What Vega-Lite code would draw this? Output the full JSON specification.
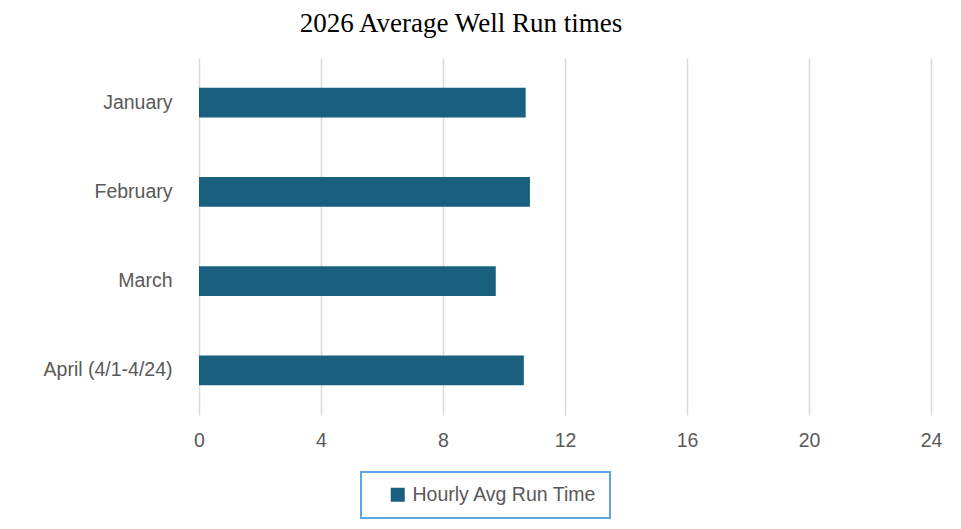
{
  "$schema": "https://vega.github.io/schema/vega-lite/v6.json",
  "autosize": {"type": "none"},
  "width": 732,
  "height": 357,
  "padding": {"left": 199, "top": 58, "right": 30, "bottom": 114},
  "background": "white",
  "title": {
    "text": "2026 Average Well Run times",
    "font": "Liberation Serif",
    "fontSize": 27,
    "fontWeight": "normal",
    "color": "#000000",
    "anchor": "middle",
    "frame": "group",
    "dx": -104,
    "offset": 20
  },
  "data": {
    "values": [
      {"month": "January", "hours": 10.71, "series": "Hourly Avg Run Time"},
      {"month": "February", "hours": 10.85, "series": "Hourly Avg Run Time"},
      {"month": "March", "hours": 9.73, "series": "Hourly Avg Run Time"},
      {"month": "April (4/1-4/24)", "hours": 10.65, "series": "Hourly Avg Run Time"}
    ]
  },
  "mark": {"type": "bar"},
  "encoding": {
    "y": {
      "field": "month",
      "type": "nominal",
      "sort": null,
      "scale": {"paddingInner": 0.664, "paddingOuter": 0.332},
      "axis": {
        "title": null,
        "domain": false,
        "ticks": false,
        "grid": false,
        "labelPadding": 27,
        "labelFont": "Liberation Sans",
        "labelFontSize": 19.5,
        "labelColor": "#595959"
      }
    },
    "x": {
      "field": "hours",
      "type": "quantitative",
      "scale": {"domain": [0, 24], "nice": false},
      "axis": {
        "title": null,
        "values": [0, 4, 8, 12, 16, 20, 24],
        "domain": false,
        "ticks": false,
        "tickSize": 0,
        "labelFlush": false,
        "labelPadding": 16,
        "labelFont": "Liberation Sans",
        "labelFontSize": 19.5,
        "labelColor": "#595959",
        "grid": true,
        "gridColor": "#d9d9d9",
        "gridWidth": 1.5
      }
    },
    "color": {
      "field": "series",
      "type": "nominal",
      "scale": {"range": ["#185f80"]},
      "legend": {
        "title": "\u00a0\u00a0\u00a0",
        "titleOrient": "right",
        "titlePadding": 0,
        "titleFont": "Liberation Sans",
        "titleFontSize": 19.5,
        "orient": "none",
        "legendX": 162,
        "legendY": 414,
        "padding": 13,
        "strokeColor": "#5ea5e3",
        "symbolType": "square",
        "symbolSize": 196,
        "symbolOffset": 14,
        "labelOffset": 5,
        "labelLimit": 400,
        "labelFont": "Liberation Sans",
        "labelFontSize": 19.5,
        "labelColor": "#595959",
        "encode": {"legend": {"update": {"strokeWidth": {"value": 2}}}}
      }
    }
  },
  "config": {"view": {"stroke": null}}
}
